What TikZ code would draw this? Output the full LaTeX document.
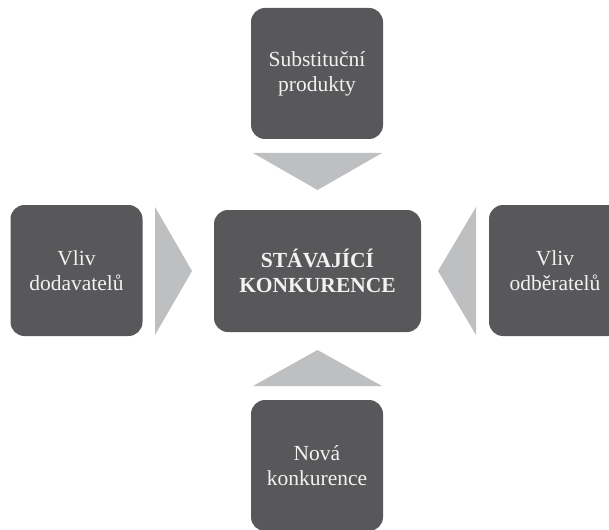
\documentclass[tikz,border=0pt]{standalone}
\usepackage{fontspec}
\setmainfont{Liberation Serif}
\definecolor{boxgray}{HTML}{58585A}
\definecolor{arrowgray}{HTML}{BEBFC1}
\definecolor{txt}{HTML}{F2F2F2}
\begin{document}
\begin{tikzpicture}[x=1pt,y=-1pt,
  box/.style={fill=boxgray, rounded corners=14pt, text=txt, align=center,
    font=\fontsize{21.5}{25}\selectfont, inner sep=0pt},
  sqbox/.style={box, minimum width=132pt, minimum height=131pt},
  tri/.style={fill=arrowgray}]
\useasboundingbox (0,0) rectangle (609,529);
\clip (0,0) rectangle (609,529);
\node[sqbox] (top) at (317,73.5) {Substituční\\produkty};
\node[sqbox] (left) at (76.5,270.5) {Vliv\\dodavatelů};
\node[sqbox] (right) at (555,270.5) {Vliv\\odběratelů};
\node[sqbox] (bottom) at (317,465.5) {Nová\\konkurence};
\node[box, minimum width=207pt, minimum height=122pt, font=\fontsize{21.5}{25}\selectfont\bfseries] (center) at (317.5,271) {STÁVAJÍCÍ\\KONKURENCE};
\fill[tri] (253,153) -- (382,153) -- (317.5,190) -- cycle;
\fill[tri] (155,207) -- (155,335) -- (192,271) -- cycle;
\fill[tri] (476,207) -- (476,335) -- (438,271) -- cycle;
\fill[tri] (253,386) -- (382,386) -- (317.5,350) -- cycle;
\end{tikzpicture}
\end{document}
